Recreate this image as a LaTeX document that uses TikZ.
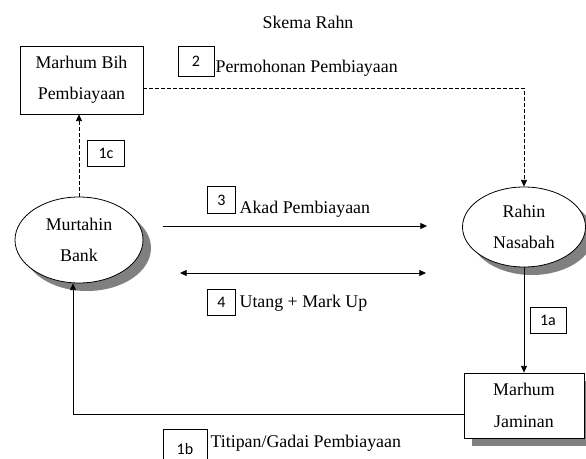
\documentclass[tikz,border=0pt]{standalone}
\usepackage{fontspec}
\setmainfont{Liberation Serif}
\newfontfamily\numfont{Carlito}
\usetikzlibrary{arrows.meta,positioning,shadows,calc,shapes.geometric}
\tikzset{
  >={Triangle[length=5pt,width=4.5pt]},
  graytrail/.style={drop shadow={shadow xshift=6pt,shadow yshift=-6pt,
                    fill=black!50,opacity=1}},
  partybox/.style={draw,line width=0.6pt,fill=white,align=center,inner sep=0pt,
                   font=\fontsize{13.4}{23.5}\selectfont},
  partyoval/.style={partybox,ellipse,graytrail},
  stepnum/.style={draw,line width=0.6pt,inner sep=0pt,font=\numfont\fontsize{12}{14}\selectfont,
                  minimum width=21pt,minimum height=20pt},
  steplabel/.style={anchor=west,inner sep=1pt,font=\fontsize{13.4}{16}\selectfont},
  flowarrow/.style={->,line width=0.6pt},
  dasharrow/.style={->,line width=0.6pt,dash pattern=on 2.6pt off 1.9pt},
}
\begin{document}
\begin{tikzpicture}[x=0.75pt,y=-0.75pt]
  \useasboundingbox (0,0) rectangle (586,459);
  \node[font=\fontsize{13.4}{16}\selectfont] (title) at (308,22) {Skema Rahn};
  % parties
  \node[partybox,minimum width=92.25pt,minimum height=51pt] (bih) at (81.5,80)
    {Marhum Bih\\Pembiayaan};
  \node[partyoval,minimum width=96pt,minimum height=64.5pt] (murtahin) at (79,240)
    {Murtahin\\Bank};
  \node[partyoval,minimum width=92.25pt,minimum height=60pt] (rahin) at (524,227)
    {Rahin\\Nasabah};
  \node[partybox,graytrail,minimum width=90pt,minimum height=48.75pt] (jaminan) at (524,405.5)
    {Marhum\\Jaminan};
  % free ends of the middle arrows
  \coordinate (akadL) at (163,226);
  \coordinate (akadR) at (427,226);
  \coordinate (utangL) at (180,273);
  \coordinate (utangR) at (426,273);
  % connectors
  \draw[dasharrow] ([yshift=-6pt]bih.east) -| (rahin.north);
  \draw[dasharrow] (murtahin.north) -- (murtahin.north |- bih.south);
  \draw[flowarrow] (akadL) -- (akadR);
  \draw[<->,line width=0.6pt] (utangL) -- (utangR);
  \draw[flowarrow] (rahin.south) -- (jaminan.north);
  \draw[flowarrow] ([yshift=-6.5pt]jaminan.west) -| ([xshift=-4.5pt]murtahin.south);
  % step numbers and labels
  \node[stepnum,minimum width=27pt,minimum height=23pt] (n2) at (196,61.5) {2};
  \node[steplabel] (l2) at (214,68) {Permohonan Pembiayaan};
  \node[stepnum] (n3) at (221.5,200) {3};
  \node[steplabel] (l3) at (238,209) {Akad Pembiayaan};
  \node[stepnum] (n4) at (221.5,302.5) {4};
  \node[steplabel] (l4) at (238,303) {Utang + Mark Up};
  \node[stepnum,minimum width=28pt,minimum height=19.5pt] (n1c) at (106,153.5) {1c};
  \node[stepnum,minimum width=27pt,minimum height=19.5pt] (n1a) at (548,320.5) {1a};
  \node[stepnum,minimum width=33pt,minimum height=30pt] (n1b) at (185,449) {1b};
  \node[steplabel] (l1b) at (209,443) {Titipan/Gadai Pembiayaan};
\end{tikzpicture}
\end{document}
